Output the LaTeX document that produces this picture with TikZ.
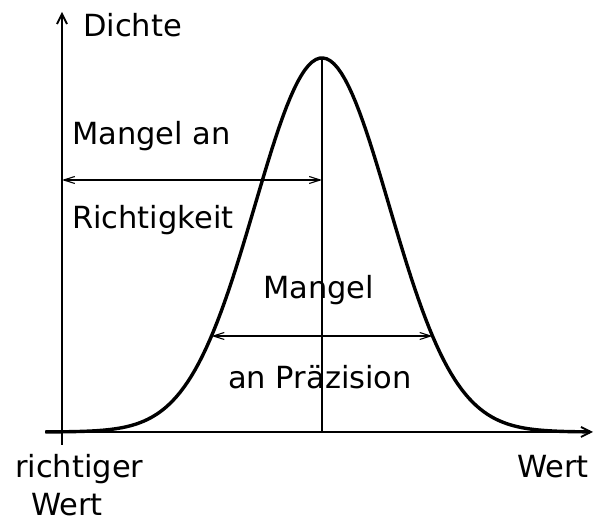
\documentclass[tikz,border=0pt]{standalone}
\usepackage{fontspec}
\setmainfont{DejaVu Sans}
\usetikzlibrary{arrows.meta}

\begin{document}
\begin{tikzpicture}[x=1pt, y=-1pt,
  axis/.style={line width=1.8pt, -{Straight Barb[length=10pt, width=10pt]}},
  gap/.style={line width=1.1pt,
    {Straight Barb[length=11pt, width=7pt]}-{Straight Barb[length=11pt, width=7pt]}},
  density/.style={line width=3.4pt, line join=round},
  lbl/.style={font=\fontsize{30.5}{36}\selectfont, inner sep=0pt, anchor=base west}]

  \useasboundingbox (0,0) rectangle (598,526);

  % --- key points ---
  \coordinate (ybot)   at (62,445);
  \coordinate (ytop)   at (62,12);
  \coordinate (xleft)  at (45,432);
  \coordinate (xright) at (593,432);
  \coordinate (peak)   at (322,58);
  \coordinate (foot)   at (322,432);
  \coordinate (accL)   at (62,180);
  \coordinate (accR)   at (322,180);
  \coordinate (precL)  at (211.5,336);
  \coordinate (precR)  at (432.5,336);

  % --- axes ---
  \draw[axis] (ybot) -- (ytop);
  \draw[axis] (xleft) -- (xright);

  % --- density curve ---
  \draw[density] plot[domain=-4.13:4.0, samples=150]
    ({322+67*\x}, {432-374*exp(-\x*\x/2)});

  % --- mean line ---
  \draw[line width=1.5pt] (peak) -- (foot);

  % --- deviations ---
  \draw[gap] (accL) -- (accR);
  \draw[gap] (precL) -- (precR);

  % --- labels ---
  \node[lbl] (dichte)  at (83,37)   {Dichte};
  \node[lbl] (mangelA) at (72,145)  {Mangel an};
  \node[lbl] (richtig) at (72,229)  {Richtigkeit};
  \node[lbl] (mangelP) at (263,299) {Mangel};
  \node[lbl] (praez)   at (228,389) {an Präzision};
  \node[lbl] (richtW)  at (15,478)  {richtiger};
  \node[lbl] (wertL)   at (31,516)  {Wert};
  \node[lbl] (wertR)   at (517,478) {Wert};

\end{tikzpicture}
\end{document}
